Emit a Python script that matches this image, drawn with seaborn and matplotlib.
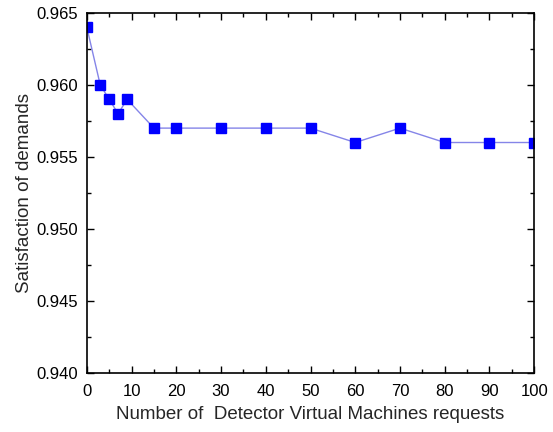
import matplotlib
matplotlib.use("Agg")
import matplotlib.pyplot as plt
import seaborn as sns
import pandas as pd
from matplotlib.ticker import MultipleLocator, FormatStrFormatter

requests = [0, 3, 5, 7, 9, 15, 20, 30, 40, 50, 60, 70, 80, 90, 100]
satisfaction = [0.964, 0.960, 0.959, 0.958, 0.959, 0.957, 0.957, 0.957, 0.957,
                0.957, 0.956, 0.957, 0.956, 0.956, 0.956]

sns.set_style("ticks")
plt.rcParams['font.family'] = ['Liberation Sans', 'DejaVu Sans']

df = pd.DataFrame({"x": requests, "y": satisfaction})

fig = plt.figure(figsize=(5.53, 4.32), dpi=100)
ax = fig.add_axes([0.157, 0.137, 0.809, 0.833])

sns.lineplot(data=df, x="x", y="y", ax=ax, color="#8585e8", linewidth=1.0,
             marker=None)
ax.plot(df["x"], df["y"], linestyle="none", marker="s", markersize=6.5,
        markerfacecolor="#0000ff", markeredgecolor="#0000ff")

ax.set_xlim(0, 100)
ax.set_ylim(0.940, 0.965)
ax.xaxis.set_major_locator(MultipleLocator(10))
ax.xaxis.set_minor_locator(MultipleLocator(5))
ax.yaxis.set_major_locator(MultipleLocator(0.005))
ax.yaxis.set_minor_locator(MultipleLocator(0.0025))
ax.yaxis.set_major_formatter(FormatStrFormatter("%.3f"))

ax.tick_params(which="both", direction="in", top=True, right=True,
               labelsize=12, colors="black", width=1.0)
ax.tick_params(axis="x", pad=8)
ax.tick_params(axis="y", pad=6)
ax.tick_params(which="major", length=5)
ax.tick_params(which="minor", length=3)
for s in ax.spines.values():
    s.set_visible(True)
    s.set_linewidth(1.2)
    s.set_color("black")

ax.set_xlabel("Number of  Detector Virtual Machines requests", fontsize=13.5, labelpad=5)
ax.set_ylabel("Satisfaction of demands", fontsize=13.5, labelpad=3)

fig.savefig("out.png", dpi=100)
